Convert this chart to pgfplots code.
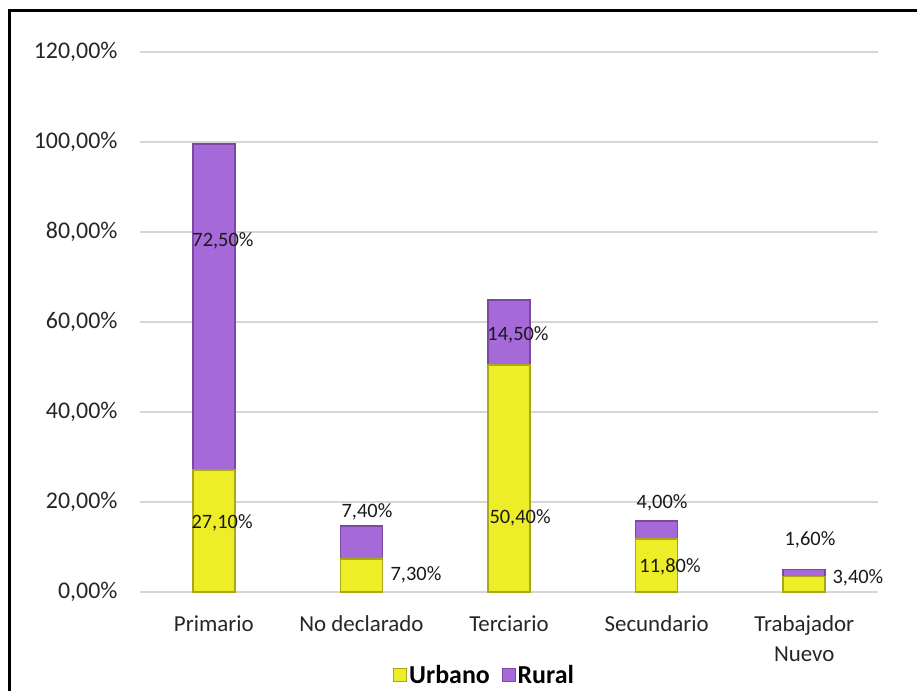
\documentclass[border=0pt]{standalone}
\usepackage{fontspec}
\setmainfont{Carlito}
\usepackage{pgfplots}
\pgfplotsset{compat=1.18}
\definecolor{yelmain}{HTML}{EDED28}
\definecolor{yeledge}{HTML}{A8A818}
\definecolor{purmain}{HTML}{A66AD8}
\definecolor{puredge}{HTML}{7A4AA2}
\tikzset{dl/.style={font=\fontsize{20.5}{20.5}\selectfont, text=black!90}}
\pgfplotsset{frame/.style={at={(140bp,99bp)}, anchor=south west,
  scale only axis, width=738bp, height=540bp,
  xmin=-0.5, xmax=4.5, ymin=0, ymax=120}}
\begin{document}
\begin{tikzpicture}
\path[use as bounding box] (0bp,0bp) rectangle (917bp,691bp);
\fill[white] (0bp,0bp) rectangle (917bp,691bp);
\draw[line width=2.5bp, black] (9.7bp,-5bp) -- (9.7bp,680.7bp) -- (925bp,680.7bp);
\begin{axis}[
  frame,
  ybar stacked, bar width=42bp,
  axis line style={draw=none},
  tick style={draw=none},
  ymajorgrids, major grid style={color=black!16, line width=1.2bp},
  ytick={0,20,40,60,80,100,120},
  yticklabels={{0,00\%},{20,00\%},{40,00\%},{60,00\%},{80,00\%},{100,00\%},{120,00\%}},
  yticklabel style={font=\fontsize{24}{28}\selectfont, text=black!85, xshift=-19bp},
  xtick={0,1,2,3,4},
  xticklabels={Primario,No declarado,Terciario,Secundario,{Trabajador\\Nuevo}},
  xticklabel style={font=\fontsize{23}{30}\selectfont, text=black!85, align=center, yshift=-20bp},
  clip=false,
  legend columns=2,
  legend style={at={(0.467,-0.154)}, anchor=center, draw=none, fill=none,
    font=\bfseries\fontsize{26}{26}\selectfont,
    /tikz/every even column/.append style={column sep=10bp}},
  legend image code/.code={\draw[#1, line width=0.8bp] (2bp,-6bp) rectangle (15bp,7bp);},
]
\addplot[draw=yeledge, line width=1.5bp, fill=yelmain]
  coordinates {(0,27.1) (1,7.3) (2,50.4) (3,11.8) (4,3.4)};
\addlegendentry{Urbano}
\addplot[draw=puredge, line width=1.5bp, fill=purmain]
  coordinates {(0,72.5) (1,7.4) (2,14.5) (3,4.0) (4,1.6)};
\addlegendentry{Rural}
\end{axis}
\begin{axis}[frame, hide axis, clip=false]
\addplot[only marks, mark=none,
  nodes near coords, point meta=explicit symbolic,
  every node near coord/.style={dl, anchor=center}]
  table[meta=lab] {
x y lab
0.062 78.0 72,50\%
0.056 15.3 27,10\%
1.038 17.8 7,40\%
1.370 3.8 7,30\%
2.075 16.4 50,40\%
2.061 57.1 14,50\%
3.037 19.8 4,00\%
3.091 5.6 11,80\%
4.039 11.6 1,60\%
4.364 3.1 3,40\%
};
\end{axis}
\end{tikzpicture}
\end{document}
